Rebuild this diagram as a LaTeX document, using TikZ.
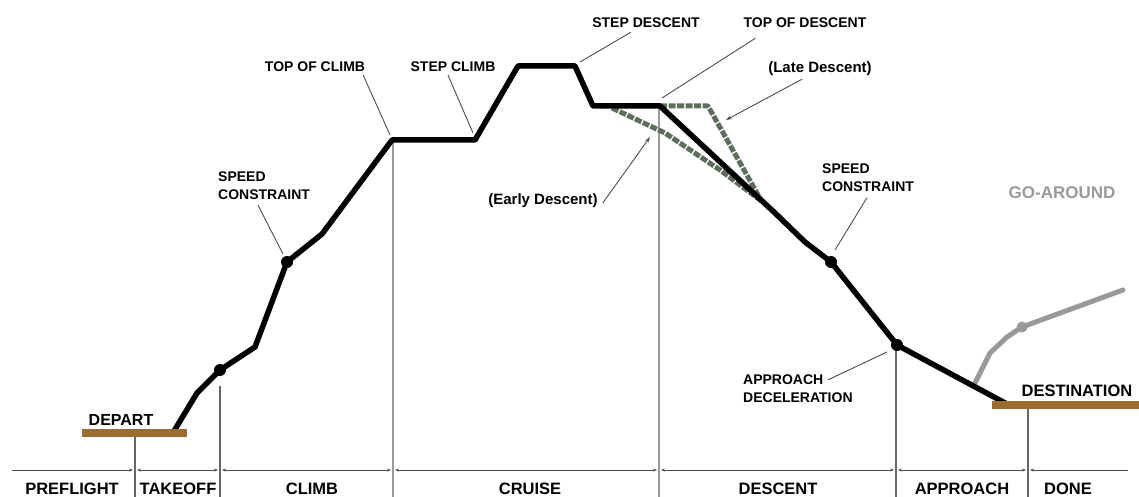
\documentclass[tikz,border=0pt]{standalone}
\usepackage{fontspec}
\setmainfont{Liberation Sans}
\usetikzlibrary{arrows.meta}
\definecolor{runway}{HTML}{9C6B30}
\definecolor{altpath}{HTML}{5E6E5E}
\definecolor{goaround}{HTML}{999999}

\begin{document}
\begin{tikzpicture}[x=1pt, y=-1pt,
  lbl/.style={font=\fontsize{14}{18}\selectfont\bfseries, inner sep=0pt, align=left},
  paren/.style={font=\fontsize{15}{18}\selectfont\bfseries, inner sep=0pt},
  phase/.style={font=\fontsize{16.5}{18}\selectfont\bfseries, inner sep=0pt},
  lead/.style={draw=black!70, line width=0.9pt},
  tip/.style={-{Stealth[length=6pt,width=4pt]}},
  prof/.style={line width=5.5pt, line join=round, line cap=round},
  option/.style={draw=altpath, line width=5pt, dash pattern=on 7pt off 1.5pt},
  dot/.style={circle, fill=black, inner sep=0pt, minimum size=12pt},
  strip/.style={draw=runway, line width=8pt},
  bound/.style={draw=black!60, line width=1.2pt},
  cbound/.style={draw=black!40, line width=2.5pt},
  span/.style={draw=black!70, line width=1pt, shorten <=2pt, shorten >=2pt},
  ends/.style={{Stealth[length=4pt,width=3pt]}-{Stealth[length=4pt,width=3pt]}}
]
\useasboundingbox (0,0) rectangle (1139,497);

% profile points
\coordinate (p0) at (174,431);
\coordinate (p1) at (197,393);
\coordinate (p2) at (220,370);
\coordinate (p3) at (255,347);
\coordinate (p4) at (287,262);
\coordinate (p5) at (322,234);
\coordinate (toc) at (392,140);
\coordinate (sc) at (475,140);
\coordinate (p6) at (518,66);
\coordinate (sd) at (575,66);
\coordinate (p7) at (593,106);
\coordinate (tod) at (660,106);
\coordinate (p8) at (775,213);
\coordinate (p9) at (805,242);
\coordinate (p10) at (831,262);
\coordinate (p11) at (897,345);
\coordinate (p12) at (1007,404);

% runways
\coordinate (dep-l) at (82,433);
\coordinate (dep-r) at (187,433);
\coordinate (dst-l) at (992,405);
\coordinate (dst-r) at (1139,405);

% phase boundaries
\coordinate (bot) at (0,497);
\coordinate (b0) at (12,470);
\coordinate (b1) at (135,470);
\coordinate (b2) at (220,470);
\coordinate (b3) at (393,470);
\coordinate (b4) at (659,470);
\coordinate (b5) at (896,470);
\coordinate (b6) at (1028,470);
\coordinate (b7) at (1128,470);

\draw[bound] ([yshift=-4pt]b1 |- dep-l) -- (b1 |- bot);
\draw[bound] ([yshift=-16pt]b2 |- p2) -- (b2 |- bot);
\draw[cbound] (b3 |- toc) -- (b3 |- bot);
\draw[cbound] (b4 |- tod) -- (b4 |- bot);
\draw[bound] (b5 |- p11) -- (b5 |- bot);
\draw[bound] ([yshift=-4pt]b6 |- dst-l) -- (b6 |- bot);

% timeline
\draw[span, -{Stealth[length=4pt,width=3pt]}, shorten <=0pt] (b0) -- (b1);
\draw[span, ends] (b1) -- (b2);
\draw[span, ends] (b2) -- (b3);
\draw[span, ends] (b3) -- (b4);
\draw[span, ends] (b4) -- (b5);
\draw[span, ends] (b5) -- (b6);
\draw[span, {Stealth[length=4pt,width=3pt]}-, shorten >=0pt] (b6) -- (b7);

\node[phase] (pre) at (72,489) {PREFLIGHT};
\node[phase] (tko) at (178,489) {TAKEOFF};
\node[phase] (clb) at (312,489) {CLIMB};
\node[phase] (crz) at (530,489) {CRUISE};
\node[phase] (des) at (778,489) {DESCENT};
\node[phase] (app) at (962,489) {APPROACH};
\node[phase] (done) at (1068,489) {DONE};

% early and late descent
\coordinate (e0) at (612,108);
\coordinate (e1) at (665,133);
\coordinate (e2) at (720,170);
\coordinate (e3) at (760,200);
\coordinate (l1) at (708,106);
\coordinate (l2) at (762,202);
\draw[option, line join=round] (e0) -- (e1) -- (e2) -- (e3);
\draw[option, line join=round] (tod) -- (l1) -- (l2);

% go-around
\coordinate (g0) at (975,383);
\coordinate (g1) at (990,353);
\coordinate (g2) at (1007,337);
\coordinate (g3) at (1022,327);
\coordinate (g4) at (1123,290);
\draw[draw=goaround, line width=5pt, line join=round, line cap=round] (g0) -- (g1) -- (g2) -- (g3) -- (g4);
\node[dot, fill=goaround, minimum size=11pt] (gd) at (g3) {};

% flight profile
\draw[prof] (p0) -- (p1) -- (p2) -- (p3) -- (p4) -- (p5) -- (toc) -- (sc) -- (p6) -- (sd) -- (p7) -- (tod)
  -- (p8) -- (p9) -- (p10) -- (p11) -- (p12);
\node[dot] (d1) at (p2) {};
\node[dot] (d2) at (p4) {};
\node[dot] (d3) at (p10) {};
\node[dot] (d4) at (p11) {};

\draw[strip] (dep-l) -- (dep-r);
\draw[strip] (dst-l) -- (dst-r);
\node[phase, font=\fontsize{16}{18}\selectfont\bfseries] (dep) at (121,419.5) {DEPART};
\node[phase] (dst) at (1077,391) {DESTINATION};

% labels
\node[lbl] (tocl) at (315,67) {TOP OF CLIMB};
\node[lbl] (scl) at (453,67) {STEP CLIMB};
\node[lbl] (sdl) at (646,23) {STEP DESCENT};
\node[lbl] (todl) at (805,23) {TOP OF DESCENT};
\node[paren] (late) at (820,69) {(Late Descent)};
\node[paren] (early) at (543,201) {(Early Descent)};
\node[lbl, anchor=west] (spd1) at (218,186) {SPEED\\CONSTRAINT};
\node[lbl, anchor=west] (spd2) at (822,177.5) {SPEED\\CONSTRAINT};
\node[lbl, anchor=west] (apd) at (743,389) {APPROACH\\DECELERATION};
\node[phase, font=\fontsize{17}{18}\selectfont\bfseries, text=goaround] (gal) at (1062,193) {GO-AROUND};

\coordinate (lateend) at (726,120);
\coordinate (earlyend) at (650,137);

\draw[lead] ([shift={(-2,3)}]tocl.south east) -- ([shift={(-2,-5)}]toc);
\draw[lead] ([shift={(-5,3)}]scl.south) -- ([shift={(-2,-7)}]sc);
\draw[lead] ([shift={(-15,4)}]sdl.south) -- ([shift={(5,-4)}]sd);
\draw[lead] ([shift={(12,10)}]todl.south west) -- ([shift={(2,-8)}]tod);
\draw[lead, tip] ([shift={(34,3)}]late.south west) -- (lateend);
\draw[lead, tip] ([shift={(5,2)}]early.east) -- (earlyend);
\draw[lead] ([shift={(40,5)}]spd1.south west) -- ([shift={(-4,-8)}]d2.center);
\draw[lead] ([shift={(45,6)}]spd2.south west) -- ([shift={(4,-12)}]d3.center);
\draw[lead] ([shift={(85,5)}]apd.north west) -- ([shift={(-10,7)}]d4.center);
\end{tikzpicture}
\end{document}
